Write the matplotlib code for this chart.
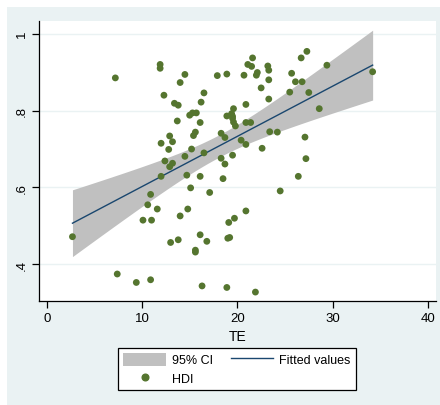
import matplotlib.pyplot as plt
import numpy as np
from matplotlib.patches import Rectangle, Patch
from matplotlib.lines import Line2D

plt.rcParams['font.family'] = ['Liberation Sans', 'DejaVu Sans']

# TE (x) and HDI (y) values
te = [2.7, 7.2, 7.4, 9.4, 10.1, 10.6, 10.9, 10.9, 11.0, 11.6,
      11.9, 11.9, 12.0, 12.0, 12.3, 12.4, 12.9, 12.9, 12.8, 13.2,
      13.2, 13.0, 13.4, 13.8, 13.8, 13.7, 14.0, 14.0, 14.5, 14.5,
      14.7, 14.8, 15.0, 15.1, 15.2, 15.3, 15.4, 15.6, 15.7, 15.6,
      15.6, 16.1, 16.1, 16.2, 16.5, 16.5, 16.1, 16.3, 16.8, 17.1,
      17.9, 18.3, 18.3, 18.5, 18.7, 18.7, 18.9, 18.9, 18.9, 19.0,
      19.2, 19.1, 19.5, 19.6, 19.4, 19.5, 19.5, 19.6, 19.8, 19.7,
      20.4, 20.7, 20.9, 20.9, 20.9, 20.9, 21.1, 21.5, 21.4, 21.6,
      21.9, 22.1, 22.0, 22.5, 22.6, 23.2, 23.3, 23.3, 23.3, 23.4,
      24.2, 24.5, 25.5, 25.7, 26.1, 26.4, 26.7, 26.8, 27.1, 27.2,
      27.3, 27.5, 28.6, 29.4, 34.2]
hdi = [0.472, 0.885, 0.375, 0.353, 0.515, 0.555, 0.582, 0.360, 0.515, 0.544,
       0.920, 0.910, 0.715, 0.629, 0.840, 0.669, 0.654, 0.734, 0.699, 0.663,
       0.719, 0.457, 0.819, 0.814, 0.464, 0.773, 0.873, 0.526, 0.894, 0.681,
       0.632, 0.544, 0.788, 0.599, 0.700, 0.794, 0.735, 0.744, 0.794, 0.437,
       0.432, 0.629, 0.769, 0.822, 0.846, 0.690, 0.477, 0.344, 0.460, 0.587,
       0.891, 0.741, 0.676, 0.623, 0.730, 0.661, 0.895, 0.786, 0.340, 0.468,
       0.470, 0.509, 0.684, 0.805, 0.792, 0.785, 0.780, 0.770, 0.760, 0.520,
       0.723, 0.892, 0.712, 0.769, 0.816, 0.539, 0.920, 0.915, 0.769, 0.937,
       0.328, 0.899, 0.892, 0.859, 0.702, 0.916, 0.905, 0.880, 0.830, 0.745,
       0.744, 0.591, 0.848, 0.897, 0.875, 0.629, 0.937, 0.875, 0.731, 0.675,
       0.954, 0.847, 0.805, 0.918, 0.901]

x_ticks = [0, 10, 20, 30, 40]
y_ticks = [0.4, 0.6, 0.8, 1.0]
y_tick_labels = [".4", ".6", ".8", "1"]

x = np.array(te)
y = np.array(hdi)

# linear fit with 95% CI of the mean prediction
n = len(x)
b, a = np.polyfit(x, y, 1)
resid = y - (a + b * x)
s = np.sqrt(np.sum(resid ** 2) / (n - 2))
xs = np.linspace(x.min(), x.max(), 200)
yfit = a + b * xs
se = s * np.sqrt(1.0 / n + (xs - x.mean()) ** 2 / np.sum((x - x.mean()) ** 2))
tval = 1.983
lo = yfit - tval * se
hi = yfit + tval * se

bg = '#eaf2f3'
fig = plt.figure(figsize=(4.4, 4.06), dpi=100, facecolor='white')
fig.patches.append(Rectangle((7 / 440, 0), 1 - 7 / 440, 1 - 8 / 406,
                             transform=fig.transFigure, facecolor=bg,
                             edgecolor='none', zorder=-10))

ax = fig.add_axes([39.3 / 440, 1 - 302.3 / 406, 396.7 / 440, 280.3 / 406])
ax.set_facecolor('white')

ax.fill_between(xs, lo, hi, color='#c0c0c0', linewidth=0, zorder=2)
ax.plot(xs, yfit, color='#1a476f', linewidth=1.0, zorder=3)
ax.scatter(x, y, s=24, color='#55752f', edgecolors='none', zorder=4)

ax.set_xlim(-0.78, 40.85)
ax.set_ylim(0.304, 1.033)
ax.set_xticks(x_ticks)
ax.set_yticks(y_ticks)
ax.set_yticklabels(y_tick_labels, rotation=90, va='center')
ax.grid(axis='y', color=bg, linewidth=1.0, zorder=1)
ax.set_axisbelow(True)

for side in ['top', 'right']:
    ax.spines[side].set_visible(False)
ax.spines['left'].set_linewidth(0.9)
ax.spines['bottom'].set_linewidth(0.9)
ax.tick_params(direction='out', length=5, width=0.9, labelsize=9.5, pad=3)
ax.set_xlabel('TE', fontsize=10, labelpad=3)

handles = [Patch(facecolor='#c0c0c0', edgecolor='none'),
           Line2D([], [], marker='o', color='#55752f', linestyle='none', markersize=4.8),
           Line2D([], [], color='#1a476f', linewidth=1.0)]
labels = ['95% CI', 'HDI', 'Fitted values']
leg = fig.legend(handles, labels, ncol=2, loc='center',
                 bbox_to_anchor=(237 / 440, 1 - 370 / 406),
                 fontsize=9, frameon=True, fancybox=False, framealpha=1,
                 edgecolor='black', handlelength=3.4, handleheight=1.2,
                 handletextpad=0.5, columnspacing=1.4, borderpad=0.4,
                 labelspacing=0.4, borderaxespad=0)
leg.get_frame().set_linewidth(0.9)

fig.savefig('out.png', dpi=100, facecolor=fig.get_facecolor())
